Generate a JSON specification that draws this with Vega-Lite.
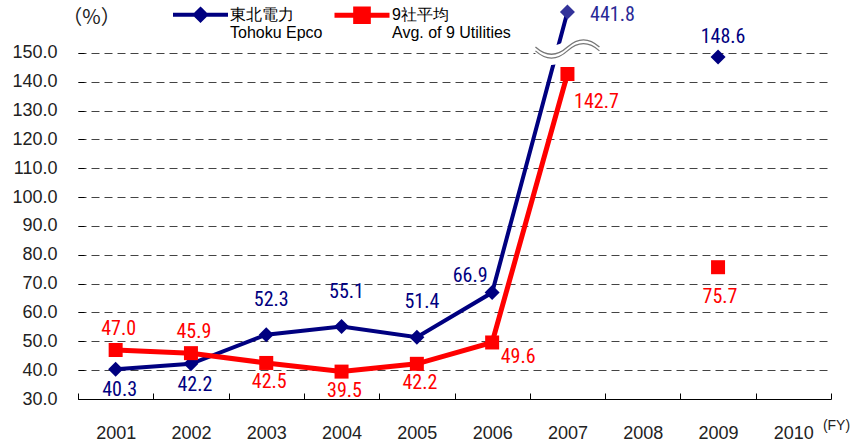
{
  "$schema": "https://vega.github.io/schema/vega-lite/v6.json",
  "width": 753,
  "height": 387,
  "autosize": {"type": "none"},
  "padding": {"left": 78, "top": 12, "right": 23, "bottom": 46},
  "background": "white",
  "config": {"view": {"stroke": null}, "font": "Liberation Sans"},
  "data": {
    "values": [
      {"year": "2001", "series": "東北電力", "value": 40.3},
      {"year": "2002", "series": "東北電力", "value": 42.2},
      {"year": "2003", "series": "東北電力", "value": 52.3},
      {"year": "2004", "series": "東北電力", "value": 55.1},
      {"year": "2005", "series": "東北電力", "value": 51.4},
      {"year": "2006", "series": "東北電力", "value": 66.9},
      {"year": "2007", "series": "東北電力", "value": 441.8},
      {"year": "2008", "series": "東北電力", "value": null},
      {"year": "2009", "series": "東北電力", "value": 148.6},
      {"year": "2010", "series": "東北電力", "value": null},
      {"year": "2001", "series": "9社平均", "value": 47.0},
      {"year": "2002", "series": "9社平均", "value": 45.9},
      {"year": "2003", "series": "9社平均", "value": 42.5},
      {"year": "2004", "series": "9社平均", "value": 39.5},
      {"year": "2005", "series": "9社平均", "value": 42.2},
      {"year": "2006", "series": "9社平均", "value": 49.6},
      {"year": "2007", "series": "9社平均", "value": 142.7},
      {"year": "2008", "series": "9社平均", "value": null},
      {"year": "2009", "series": "9社平均", "value": 75.7},
      {"year": "2010", "series": "9社平均", "value": null}
    ]
  },
  "encoding": {
    "x": {
      "field": "year",
      "type": "ordinal",
      "bandPosition": 0.5,
      "scale": {"type": "band", "domain": ["2001","2002","2003","2004","2005","2006","2007","2008","2009","2010"], "paddingInner": 0, "paddingOuter": 0},
      "axis": {
        "title": "(FY)", "titleX": 758, "titleY": 26, "titleAlign": "center", "titleBaseline": "middle",
        "titleFont": "Liberation Sans", "titleFontSize": 14, "titleFontWeight": "normal", "titleColor": "#222",
        "labelAngle": 0, "labelFont": "Liberation Sans", "labelFontSize": 18, "labelColor": "#222", "labelPadding": 31,
        "tickBand": "extent", "tickSize": -6, "tickColor": "black", "domainColor": "black", "grid": false
      }
    },
    "y": {
      "field": "value",
      "type": "quantitative",
      "scale": {"domain": [30, 164.2], "clamp": true, "nice": false, "zero": false},
      "axis": {
        "values": [30,40,50,60,70,80,90,100,110,120,130,140,150],
        "format": ".1f", "domain": false, "ticks": true, "tickSize": -6, "tickColor": "black",
        "labelFont": "Liberation Sans", "labelFontSize": 18, "labelColor": "#222", "labelPadding": 27,
        "grid": true, "gridDash": [8, 5], "gridColor": "#444", "gridWidth": 1,
        "title": "（%）", "titleAngle": 0, "titleX": 13, "titleY": 5, "titleAlign": "center", "titleBaseline": "middle",
        "titleFont": "Noto Sans CJK JP", "titleFontSize": 20, "titleFontWeight": "normal", "titleColor": "#222"
      }
    }
  },
  "layer": [
    {
      "data": {"values": [{}]},
      "mark": {"type": "rule", "color": "black", "strokeWidth": 1},
      "encoding": {
        "x": {"datum": "2001", "type": "ordinal", "bandPosition": 0},
        "y": {"datum": 30},
        "y2": {"datum": 150}
      }
    },
    {
      "transform": [{"filter": "datum.series == '東北電力'"}],
      "mark": {"type": "line", "strokeWidth": 4},
      "encoding": {
        "stroke": {
          "field": "series", "type": "nominal",
          "scale": {"domain": ["東北電力"], "range": ["#000080"]},
          "legend": {
            "orient": "none", "legendX": 93, "legendY": -35, "title": null,
            "symbolType": "M-1,0.3H1M0,0.1L0.2,0.3L0,0.5L-0.2,0.3Z",
            "symbolSize": 3025, "symbolStrokeWidth": 4, "symbolFillColor": "#000080", "symbolStrokeColor": "#000080",
            "labelFont": "Liberation Sans", "labelFontSize": 16, "labelColor": "black",
            "labelOffset": 0, "labelBaseline": "top",
            "labelExpr": "['東北電力', 'Tohoku Epco']"
          }
        }
      }
    },
    {
      "transform": [{"filter": "datum.series == '9社平均'"}],
      "mark": {"type": "line", "strokeWidth": 5},
      "encoding": {
        "color": {
          "field": "series", "type": "nominal",
          "scale": {"domain": ["9社平均"], "range": ["#FF0000"]},
          "legend": {
            "orient": "none", "legendX": 254, "legendY": -35, "title": null,
            "symbolType": "M-1,0.3H1M-0.23,0.07H0.23V0.53H-0.23Z",
            "symbolSize": 3025, "symbolStrokeWidth": 5, "symbolFillColor": "#FF0000", "symbolStrokeColor": "#FF0000",
            "labelFont": "Liberation Sans", "labelFontSize": 16, "labelColor": "black",
            "labelOffset": 0, "labelBaseline": "top",
            "labelExpr": "['9社平均', 'Avg. of 9 Utilities']"
          }
        }
      }
    },
    {
      "transform": [{"filter": "datum.series == '東北電力' && isValid(datum.value) && datum.year != '2007'"}],
      "mark": {"type": "point", "filled": true, "opacity": 1, "shape": "diamond", "size": 225, "color": "#000080"}
    },
    {
      "transform": [{"filter": "datum.series == '東北電力' && datum.year == '2007'"}],
      "mark": {"type": "point", "filled": true, "opacity": 1, "shape": "diamond", "size": 225, "color": "#33339a"}
    },
    {
      "transform": [{"filter": "datum.series == '9社平均' && isValid(datum.value)"}],
      "mark": {"type": "point", "filled": true, "opacity": 1, "shape": "square", "size": 196, "color": "#FF0000"}
    },
    {
      "transform": [{"filter": "datum.series == '東北電力' && datum.year == '2007'"}],
      "mark": {"type": "point", "filled": true, "fill": "white", "strokeWidth": 0, "opacity": 1, "size": 4096,
        "shape": "M-1,-0.3Q-0.5,0.12 0,-0.3Q0.5,-0.72 1,-0.3L1,0.3Q0.5,-0.12 0,0.3Q-0.5,0.72 -1,0.3Z"},
      "encoding": {"y": {"datum": 151.5}}
    },
    {
      "transform": [{"filter": "datum.series == '東北電力' && datum.year == '2007'"}],
      "mark": {"type": "point", "filled": false, "stroke": "#777", "strokeWidth": 1.3, "opacity": 1, "size": 4096,
        "shape": "M-1,-0.05Q-0.5,0.4 0,-0.05Q0.5,-0.5 1,-0.05M-1,0.07Q-0.5,0.52 0,0.07Q0.5,-0.38 1,0.07"},
      "encoding": {"y": {"datum": 151.5}}
    },
    {
      "transform": [{"filter": "datum.series == '東北電力' && (datum.year == '2001' || datum.year == '2002')"}],
      "mark": {"type": "text", "font": "Roboto Condensed, DejaVu Sans Condensed, Liberation Sans", "fontSize": 20, "fill": "#000080", "align": "center", "baseline": "middle", "dx": 4, "dy": 21},
      "encoding": {"text": {"field": "value", "type": "quantitative", "format": ".1f"}}
    },
    {
      "transform": [{"filter": "datum.series == '東北電力' && (datum.year == '2003' || datum.year == '2004' || datum.year == '2005')"}],
      "mark": {"type": "text", "font": "Roboto Condensed, DejaVu Sans Condensed, Liberation Sans", "fontSize": 20, "fill": "#000080", "align": "center", "baseline": "middle", "dx": 5, "dy": -35},
      "encoding": {"text": {"field": "value", "type": "quantitative", "format": ".1f"}}
    },
    {
      "transform": [{"filter": "datum.series == '東北電力' && datum.year == '2006'"}],
      "mark": {"type": "text", "font": "Roboto Condensed, DejaVu Sans Condensed, Liberation Sans", "fontSize": 20, "fill": "#000080", "align": "center", "baseline": "middle", "dx": -22, "dy": -17},
      "encoding": {"text": {"field": "value", "type": "quantitative", "format": ".1f"}}
    },
    {
      "transform": [{"filter": "datum.series == '東北電力' && datum.year == '2007'"}],
      "mark": {"type": "text", "font": "Roboto Condensed, DejaVu Sans Condensed, Liberation Sans", "fontSize": 20, "fill": "#2a2a96", "align": "center", "baseline": "middle", "dx": 45, "dy": 3},
      "encoding": {"text": {"field": "value", "type": "quantitative", "format": ".1f"}}
    },
    {
      "transform": [{"filter": "datum.series == '東北電力' && datum.year == '2009'"}],
      "mark": {"type": "text", "font": "Roboto Condensed, DejaVu Sans Condensed, Liberation Sans", "fontSize": 20, "fill": "#000080", "align": "center", "baseline": "middle", "dx": 5, "dy": -20},
      "encoding": {"text": {"field": "value", "type": "quantitative", "format": ".1f"}}
    },
    {
      "transform": [{"filter": "datum.series == '9社平均' && (datum.year == '2001' || datum.year == '2002')"}],
      "mark": {"type": "text", "font": "Roboto Condensed, DejaVu Sans Condensed, Liberation Sans", "fontSize": 20, "fill": "#FF0000", "align": "center", "baseline": "middle", "dx": 3, "dy": -21},
      "encoding": {"text": {"field": "value", "type": "quantitative", "format": ".1f"}}
    },
    {
      "transform": [{"filter": "datum.series == '9社平均' && (datum.year == '2003' || datum.year == '2004' || datum.year == '2005')"}],
      "mark": {"type": "text", "font": "Roboto Condensed, DejaVu Sans Condensed, Liberation Sans", "fontSize": 20, "fill": "#FF0000", "align": "center", "baseline": "middle", "dx": 3, "dy": 19},
      "encoding": {"text": {"field": "value", "type": "quantitative", "format": ".1f"}}
    },
    {
      "transform": [{"filter": "datum.series == '9社平均' && datum.year == '2006'"}],
      "mark": {"type": "text", "font": "Roboto Condensed, DejaVu Sans Condensed, Liberation Sans", "fontSize": 20, "fill": "#FF0000", "align": "center", "baseline": "middle", "dx": 26, "dy": 15},
      "encoding": {"text": {"field": "value", "type": "quantitative", "format": ".1f"}}
    },
    {
      "transform": [{"filter": "datum.series == '9社平均' && datum.year == '2007'"}],
      "mark": {"type": "text", "font": "Roboto Condensed, DejaVu Sans Condensed, Liberation Sans", "fontSize": 20, "fill": "#FF0000", "align": "center", "baseline": "middle", "dx": 29, "dy": 28},
      "encoding": {"text": {"field": "value", "type": "quantitative", "format": ".1f"}}
    },
    {
      "transform": [{"filter": "datum.series == '9社平均' && datum.year == '2009'"}],
      "mark": {"type": "text", "font": "Roboto Condensed, DejaVu Sans Condensed, Liberation Sans", "fontSize": 20, "fill": "#FF0000", "align": "center", "baseline": "middle", "dx": 2, "dy": 30},
      "encoding": {"text": {"field": "value", "type": "quantitative", "format": ".1f"}}
    }
  ]
}
